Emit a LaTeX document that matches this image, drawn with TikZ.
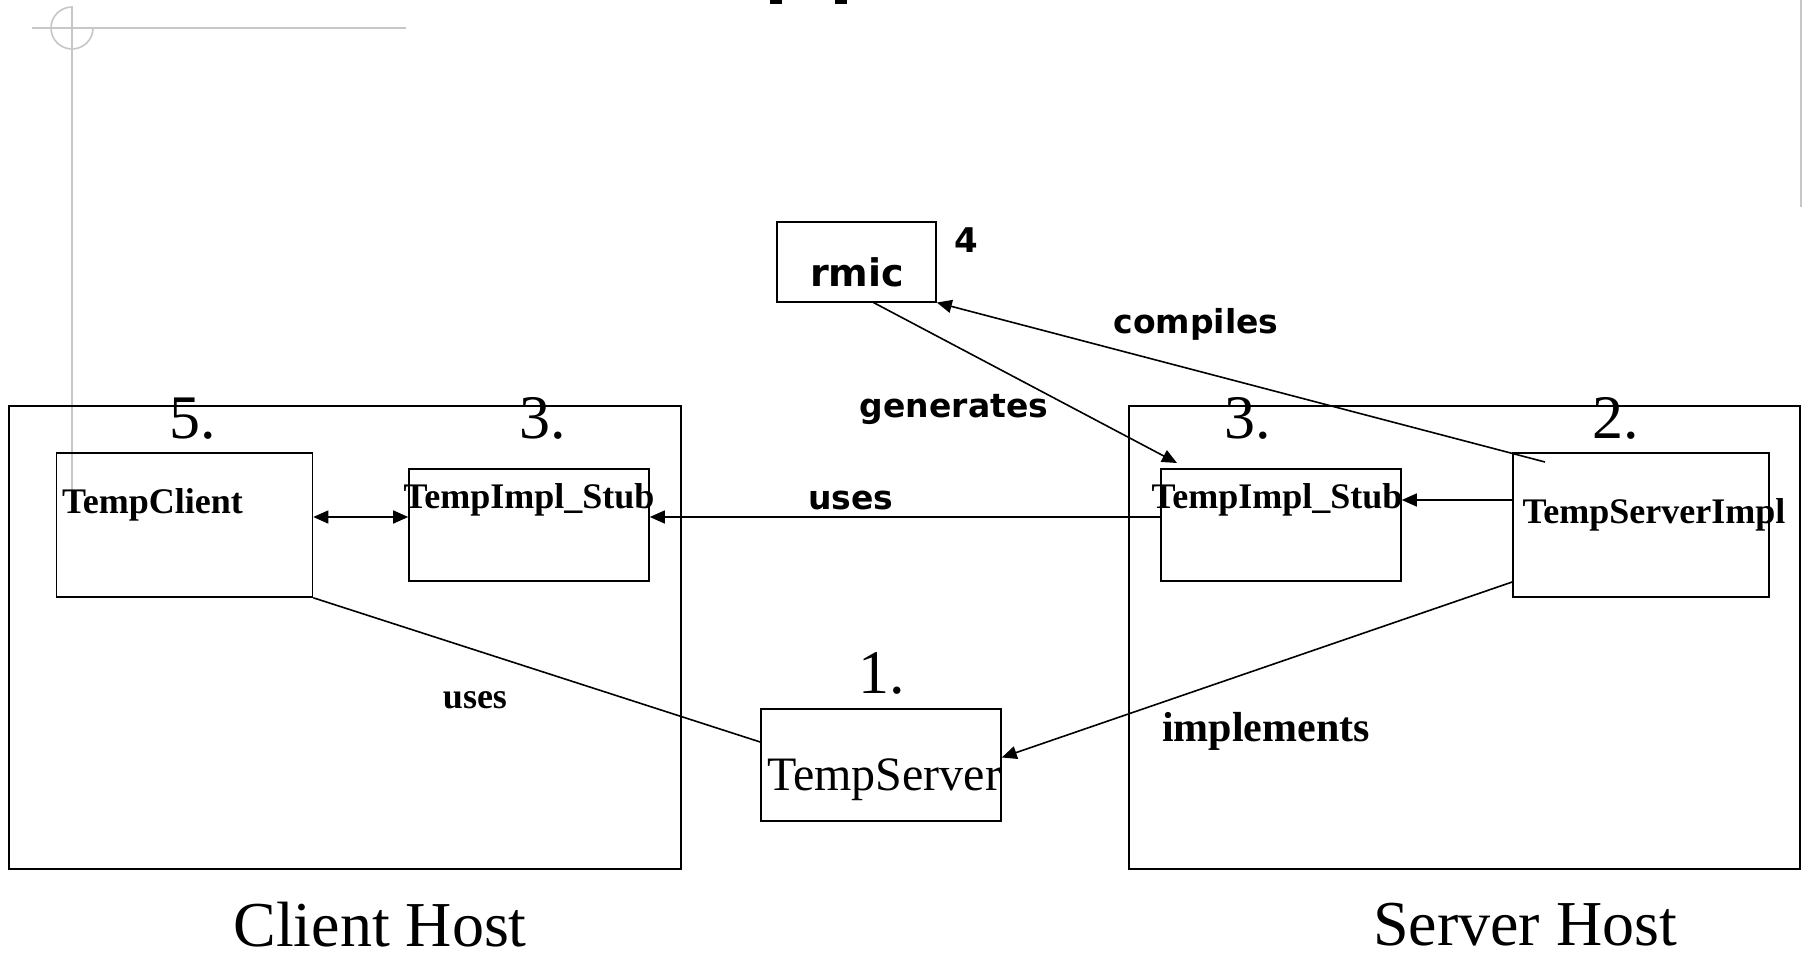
\documentclass[tikz,border=0pt]{standalone}
\usepackage{fontspec}
\setmainfont{Liberation Serif}
\newfontfamily\sansf{DejaVu Sans}
\usetikzlibrary{arrows.meta}
\begin{document}
\begin{tikzpicture}[x=1pt,y=-1pt,
  box/.style={draw, line width=1.6pt, inner sep=0pt},
  conn/.style={line width=1.6pt},
  arr/.style={conn, -{Triangle[length=15pt,width=13pt]}},
  biarr/.style={conn, {Triangle[length=15pt,width=13pt]}-{Triangle[length=15pt,width=13pt]}},
  deco/.style={draw=black!22, line width=1.6pt},
  lbl/.style={inner sep=0pt, anchor=base},
  sanslbl/.style={lbl, font=\sansf\bfseries\fontsize{33}{36}\selectfont},
  serifb/.style={lbl, font=\bfseries\fontsize{36}{40}\selectfont},
  num/.style={lbl, font=\fontsize{62}{66}\selectfont},
  host/.style={lbl, font=\fontsize{64}{70}\selectfont}
]
\useasboundingbox (0,0) rectangle (1808,960);
\fill[white] (0,0) rectangle (1808,960);

% cut-off title fragments
\fill (770,0) rectangle (782,4);
\fill (835,0) rectangle (847,4);

% slide decoration
\draw[deco] (32,28) -- (406,28);
\draw[deco] (72,6) -- (72,513);
\draw[deco] (93,28) arc[start angle=0, end angle=270, radius=21];
\draw[deco] (1801,0) -- (1801,207);

% hosts
\node[box, minimum width=672pt, minimum height=463pt] (client) at (345,637.5) {};
\node[box, minimum width=671pt, minimum height=463pt] (server) at (1464.5,637.5) {};

% inner boxes
\node[box, minimum width=256pt, minimum height=144pt] (tc) at (184.5,525) {};
\node[box, minimum width=240pt, minimum height=112pt] (cstub) at (529,525) {};
\node[box, minimum width=240pt, minimum height=112pt] (sstub) at (1281,525) {};
\node[box, minimum width=256pt, minimum height=144pt] (tsi) at (1641,525) {};
\node[box, minimum width=240pt, minimum height=112pt] (ts) at (881,765) {};
\node[box, minimum width=159pt, minimum height=79.5pt] (rmic) at (856.5,262) {};

% box texts
\node[serifb, anchor=base west] (tcl) at (62,513) {TempClient};
\node[serifb] (cstubl) at (529,508) {TempImpl\_Stub};
\node[serifb] (sstubl) at (1277,508) {TempImpl\_Stub};
\node[serifb] (tsil) at (1654,523) {TempServerImpl};
\node[lbl, font=\fontsize{48}{52}\selectfont] (tsl) at (884,790) {TempServer};
\node[lbl, font=\sansf\bfseries\fontsize{38}{42}\selectfont] (rmicl) at (857,287) {rmic};

% step numbers
\node[lbl, font=\sansf\bfseries\fontsize{34}{38}\selectfont] (n4) at (966,253) {4};
\node[num] (n5) at (193,438) {5.};
\node[num] (n3c) at (543,438) {3.};
\node[num] (n3s) at (1248,438) {3.};
\node[num] (n2) at (1616,438) {2.};
\node[num] (n1) at (882,693) {1.};

% host labels
\node[host] (clh) at (380,946) {Client Host};
\node[host] (svh) at (1525,945) {Server Host};

% connectors
\coordinate (genEnd) at (1177,463);
\coordinate (cmpStart) at (1545,462);
\draw[arr] ([xshift=17pt]rmic.south) -- (genEnd);
\draw[arr] (cmpStart) -- (rmic.south east);
\draw[arr] ([yshift=8pt]sstub.west) -- ([yshift=8pt]cstub.east);
\draw[arr] ([yshift=25pt]tsi.west) -- ([yshift=25pt]sstub.east);
\draw[biarr] ([yshift=8pt]tc.east) -- ([yshift=8pt]cstub.west);
\draw[conn] (tc.south east) -- ([yshift=23pt]ts.west);
\draw[arr] ([yshift=-57pt]tsi.west) -- ([yshift=7.5pt]ts.east);

% connector labels
\node[sanslbl] (lcomp) at (1196,334) {compiles};
\node[sanslbl] (lgen) at (954,417) {generates};
\node[sanslbl] (luses) at (851,509) {uses};
\node[serifb] (luses2) at (475,708) {uses};
\node[lbl, font=\bfseries\fontsize{42}{46}\selectfont] (limpl) at (1266,741) {implements};
\end{tikzpicture}
\end{document}
